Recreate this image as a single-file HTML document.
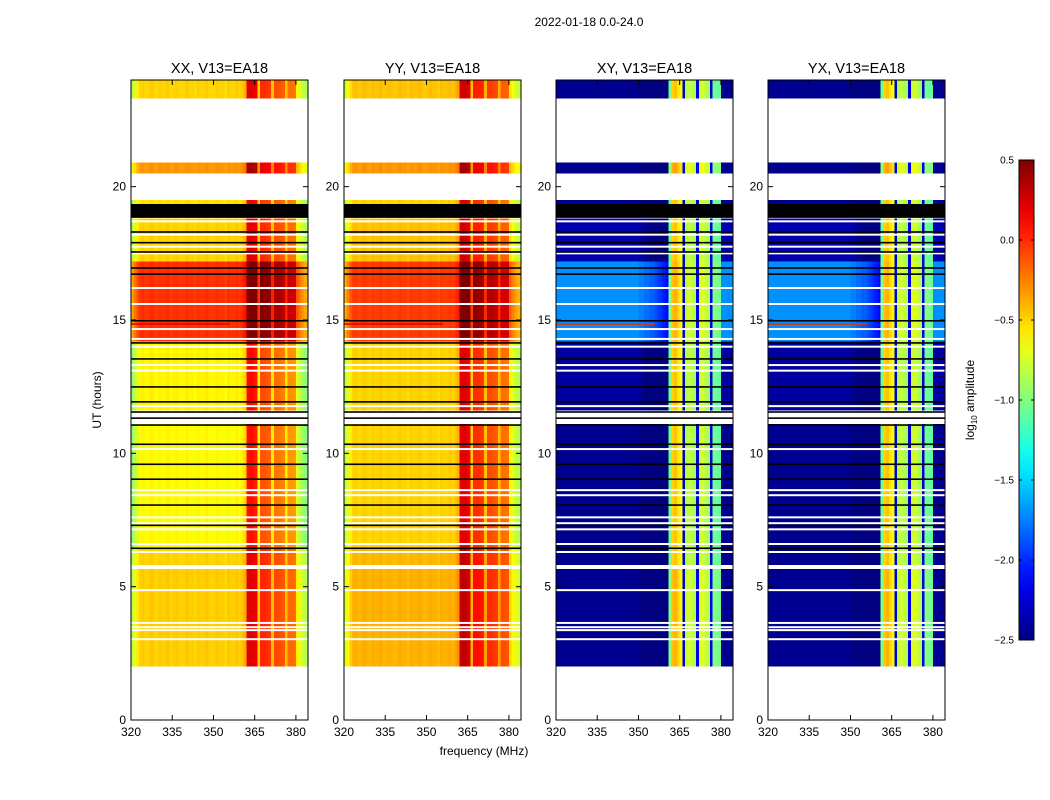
<!DOCTYPE html>
<html><head><meta charset="utf-8">
<style>
body{margin:0;background:#fff;}
svg{display:block;font-family:"Liberation Sans","DejaVu Sans",sans-serif;}
</style></head>
<body>
<svg id="fig" width="1050" height="800" viewBox="0 0 1050 800" xmlns="http://www.w3.org/2000/svg">
<text x="589" y="26" font-size="12" text-anchor="middle">2022-01-18 0.0-24.0</text>
<text x="484" y="755" font-size="12" text-anchor="middle">frequency (MHz)</text>
<text x="101" y="400" font-size="12" text-anchor="middle" transform="rotate(-90 101 400)">UT (hours)</text>
<g id="panels"></g>
<g id="cbar"></g>
</svg>
<script>
// ---- data ----
const panelTitles = ["XX, V13=EA18","YY, V13=EA18","XY, V13=EA18","YX, V13=EA18"];
const panelKind = ["par","par","cross","cross"];
const segStart = [2.0, 5.81, 6.45, 11.6, 14.2, 17.2, 19.35, 20.5, 23.3];
const segEnd   = [5.66, 6.45, 11.1, 14.2, 17.2, 18.8, 19.5, 20.9, 24.0];
const levelXX  = [-0.48,-0.5,-0.62,-0.6,-0.02,-0.5,-0.55,-0.32,-0.5];
const levelYY  = [-0.4,-0.42,-0.5,-0.5,-0.05,-0.45,-0.5,-0.32,-0.45];
const baseXY   = [-2.45,-2.45,-2.45,-2.4,-1.7,-2.35,-2.45,-2.45,-2.45];
const bandXY   = [0,-0.05,-0.05,-0.05,0,-0.05,-0.05,0.05,-0.05];
const baseYX   = [-2.45,-2.45,-2.45,-2.4,-1.7,-2.35,-2.45,-2.45,-2.45];
const bandYX   = [0,-0.05,-0.05,-0.05,0,-0.05,-0.05,0.05,-0.05];
// per-1MHz channel offsets, 320..383
const chanPar = [-0.35,-0.2,-0.08,0,0.02,-0.02,0,0.03,0,-0.02,0.02,0,0,0.03,-0.02,0,0.02,0,-0.02,0,0.03,0,0,-0.02,0.02,0,0,0.03,0,-0.02,0,0.02,0,0,-0.03,0.02,0,0,0.03,0,0.03,0.1,
  0.7,0.72,0.7,0.65,0.0,0.5,0.5,0.48,0.45,0.05,0.4,0.4,0.38,0.35,0.05,0.3,0.3,0.28,-0.1,-0.2,-0.3,-0.35];
const chanCross = [0,0,0,0,0,0,0,0,0,0,0,0,0,0,0,0,0,0,0,0,0,0,0,0,0,0,0,0,0,0,-0.05,-0.05,-0.1,-0.1,-0.15,-0.15,-0.2,-0.25,-0.3,-0.35,-0.4,-1.0,
  -0.45,-0.4,-0.5,-0.6,-2.2,-0.8,-0.75,-0.8,-0.85,-2.2,-0.75,-0.7,-0.8,-0.85,-2.2,-1.0,-1.0,-1.05,0,0,0,0];
const inBand = [0,0,0,0,0,0,0,0,0,0,0,0,0,0,0,0,0,0,0,0,0,0,0,0,0,0,0,0,0,0,0,0,0,0,0,0,0,0,0,0,0,1,
  1,1,1,1,1,1,1,1,1,1,1,1,1,1,1,1,1,1,0,0,0,0];
const blackLines = [18.3,17.9,17.55,16.95,16.72,14.97,14.14,13.54,12.49,11.93,11.55,11.32,11.06,10.34,9.59,9.03,8.06,7.3,6.44];
const blackBand = [18.83,19.35];
const whiteLines = [18.7,18.2,17.75,17.5,16.2,15.6,14.66,14.29,14.0,13.31,13.1,11.77,11.4,10.16,8.62,8.43,7.6,7.38,7.15,6.6,6.3,4.87,3.64,3.48,3.37,3.03];
const rfiHours = [14.85];
const yTicks = [0,5,10,15,20];
const xTicks = [320,335,350,365,380];
const cbTicks = [0.5,0.0,-0.5,-1.0,-1.5,-2.0,-2.5];
// ---- layout ----
const NS="http://www.w3.org/2000/svg";
const panelX=[131,344,556,768], PW=177, PT=80, PH=640;
const fMin=320,fMax=384.4,vmin=-2.5,vmax=0.5;
function jet(v){let x=(v-vmin)/(vmax-vmin);x=Math.max(0,Math.min(1,x));
 const c=t=>Math.round(255*Math.max(0,Math.min(1,t)));
 return `rgb(${c(1.5-Math.abs(4*x-3))},${c(1.5-Math.abs(4*x-2))},${c(1.5-Math.abs(4*x-1))})`;}
function el(tag,attrs,parent){const e=document.createElementNS(NS,tag);for(const k in attrs)e.setAttribute(k,attrs[k]);parent.appendChild(e);return e;}
const root=document.getElementById('panels');
panelTitles.forEach((title,p)=>{
 const x0=panelX[p];
 const xs=f=>x0+(f-fMin)/(fMax-fMin)*PW;
 const ys=h=>PT+PH-h/24*PH;
 const g=el('g',{},root);
 
 
 const hm=el('g',{'shape-rendering':'crispEdges'},g);
 
 
 segStart.forEach((s,i)=>{
  for(let c=0;c<64;c++){
   let v;
   if(panelKind[p]==='par'){v=(p===0?levelXX:levelYY)[i]+chanPar[c];}
   else{const base=(p===2?baseXY:baseYX)[i],band=(p===2?bandXY:bandYX)[i];
     v=inBand[c]?band+chanCross[c]:base+chanCross[c];}
   const fa=fMin+c, fb=Math.min(fMax,fMin+c+1);
   const r=el('rect',{x:xs(fa),y:ys(segEnd[i]),width:xs(fb)-xs(fa)+0.5,height:ys(s)-ys(segEnd[i]),fill:jet(v)},hm);
   
   
  }
 });
 rfiHours.forEach(h=>{const r=el('rect',{x:x0,y:ys(h)-0.8,width:xs(356)-x0,height:1.6,fill:jet(p<2?0.2:0.0)},g);
  });
 whiteLines.forEach(h=>{const r=el('rect',{x:x0,y:ys(h)-1,width:PW,height:2,fill:'#fff'},g);
  });
 blackLines.forEach(h=>{const r=el('rect',{x:x0,y:ys(h)-0.8,width:PW,height:1.6,fill:'#000'},g);
  });
 const bb=el('rect',{x:x0,y:ys(blackBand[1]),width:PW,height:ys(blackBand[0])-ys(blackBand[1]),fill:'#000'},g);
 
 el('rect',{x:x0,y:PT,width:PW,height:PH,fill:'none',stroke:'#000','stroke-width':1},g);
 yTicks.forEach(t=>{const y=ys(t);
  el('line',{x1:x0,x2:x0+5,y1:y,y2:y,stroke:'#000'},g);el('line',{x1:x0+PW,x2:x0+PW-5,y1:y,y2:y,stroke:'#000'},g);
  const tx=el('text',{x:x0-5,y:y+4,'font-size':12,'text-anchor':'end'},g);tx.textContent=t;
  });
 xTicks.forEach(t=>{const x=xs(t);
  el('line',{x1:x,x2:x,y1:PT+PH,y2:PT+PH-5,stroke:'#000'},g);el('line',{x1:x,x2:x,y1:PT,y2:PT+5,stroke:'#000'},g);
  const tx=el('text',{x:x,y:PT+PH+16,'font-size':12,'text-anchor':'middle'},g);tx.textContent=t;
  });
 const tt=el('text',{x:x0+PW/2,y:73,'font-size':14.5,'text-anchor':'middle'},g);tt.textContent=title;
 
});
// colorbar
const cb=document.getElementById('cbar');
const CX=1019,CY=160,CW=15,CH=480;
const defs=el('defs',{},cb);const lg=el('linearGradient',{id:'jetg',x1:0,y1:1,x2:0,y2:0},defs);
for(let i=0;i<=20;i++){el('stop',{offset:i/20,'stop-color':jet(vmin+(vmax-vmin)*i/20)},lg);}
el('rect',{x:CX,y:CY,width:CW,height:CH,fill:'url(#jetg)',stroke:'#000'},cb);
cbTicks.forEach(t=>{const y=CY+(vmax-t)/(vmax-vmin)*CH;
 el('line',{x1:CX,x2:CX+3,y1:y,y2:y,stroke:'#000'},cb);
 el('line',{x1:CX+CW,x2:CX+CW-3,y1:y,y2:y,stroke:'#000'},cb);
 const tx=el('text',{x:CX-5,y:y+3.5,'font-size':10,'text-anchor':'end'},cb);tx.textContent=t.toFixed(1).replace('-','\u2212');
 });
const lab=el('text',{x:974,y:400,'font-size':12,'text-anchor':'middle',transform:'rotate(-90 974 400)'},cb);

lab.innerHTML='log<tspan font-size="8" dy="3">10</tspan><tspan dy="-3"> amplitude</tspan>';
</script>
</body></html>
